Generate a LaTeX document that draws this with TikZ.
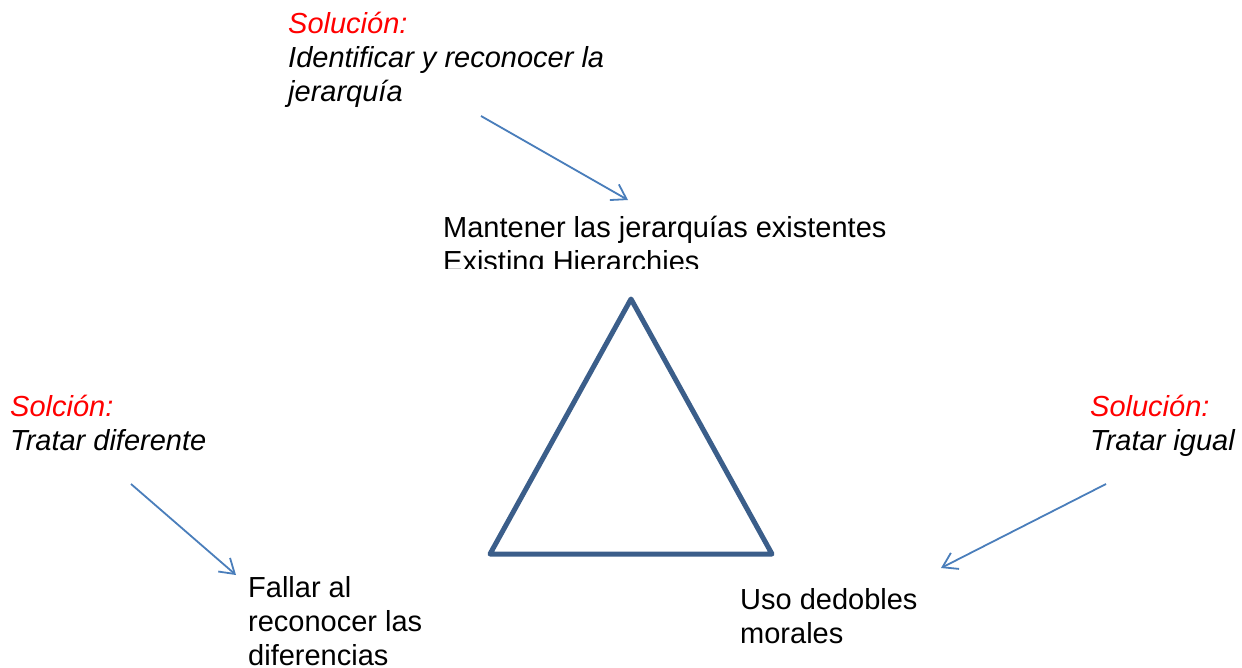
\documentclass[tikz,border=0pt]{standalone}
\usepackage{fontspec}
\setmainfont{Liberation Sans}
\usetikzlibrary{arrows.meta}
\definecolor{arrowblue}{HTML}{4A7EBB}
\definecolor{triblue}{HTML}{3B5E8A}
\definecolor{solred}{HTML}{FF0000}
\tikzset{
  lbl/.style={anchor=base west, inner sep=0pt, align=left, font=\fontsize{29}{34}\selectfont},
  sol/.style={lbl, font=\fontsize{29}{34}\selectfont\itshape},
  conn/.style={draw=arrowblue, line width=1.8pt, -{Straight Barb[length=14pt,width=18pt,line width=1.8pt]}},
  tri/.style={draw=triblue, line width=5pt, line join=round, line cap=round}
}
\begin{document}
\begin{tikzpicture}[x=1pt,y=-1pt]
\useasboundingbox (0,0) rectangle (1242,667);
% top solution (anchor = baseline of last line)
\node[sol] (solTop) at (288,101) {\textcolor{solred}{Solución:}\\Identificar y reconocer la\\jerarquía};
% top label (clipped)
\begin{scope}
\clip (0,0) rectangle (1242,268);
\node[lbl] (top) at (443,271) {Mantener las jerarquías existentes\\Existing Hierarchies};
\end{scope}
% left
\node[sol] (solLeft) at (10,450) {\textcolor{solred}{Solción:}\\Tratar diferente};
\node[lbl] (left) at (248,665) {Fallar al\\reconocer las\\diferencias};
% right
\node[sol] (solRight) at (1090,450) {\textcolor{solred}{Solución:}\\Tratar igual};
\node[lbl] (right) at (740,643) {Uso dedobles\\morales};
% triangle
\coordinate (A) at (631,299);
\coordinate (B) at (490,554);
\coordinate (C) at (772,554);
\draw[tri] (A) -- (B) -- (C) -- cycle;
% arrows
\coordinate (t1) at (481,116);
\coordinate (t2) at (628,200);
\coordinate (l1) at (131,484);
\coordinate (l2) at (236,575);
\coordinate (r1) at (1106,484);
\coordinate (r2) at (941,568);
\draw[conn] (t1) -- (t2);
\draw[conn] (l1) -- (l2);
\draw[conn] (r1) -- (r2);
\end{tikzpicture}
\end{document}
